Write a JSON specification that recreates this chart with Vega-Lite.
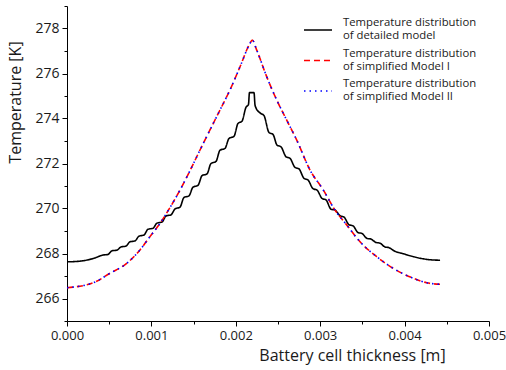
{
  "$schema": "https://vega.github.io/schema/vega-lite/v6.json",
  "width": 422,
  "height": 315,
  "autosize": "none",
  "padding": {"left": 67, "top": 6, "right": 17, "bottom": 49},
  "config": {
    "view": {"stroke": null},
    "font": "Open Sans",
    "axis": {"grid": false, "domainColor": "#000", "tickColor": "#000", "labelColor": "#1a1a1a", "titleColor": "#1a1a1a", "labelFont": "Open Sans", "titleFont": "Open Sans", "titleFontWeight": "normal", "domainWidth": 1, "tickWidth": 1},
    "legend": {"rowPadding": 3.5, "padding": 0}
  },
  "datasets": {
    "detailed": [
      {"x": 0, "T": 267.63}, {"x": 0.000154, "T": 267.66}, {"x": 0.000312, "T": 267.78},
      {"x": 0.000427, "T": 267.93}, {"x": 0.000486, "T": 267.96}, {"x": 0.000533, "T": 268.12}, {"x": 0.000592, "T": 268.15},
      {"x": 0.00064, "T": 268.29}, {"x": 0.000699, "T": 268.33}, {"x": 0.000746, "T": 268.52}, {"x": 0.000806, "T": 268.56},
      {"x": 0.000853, "T": 268.77}, {"x": 0.000912, "T": 268.82}, {"x": 0.00096, "T": 269.08}, {"x": 0.001019, "T": 269.12},
      {"x": 0.001066, "T": 269.35}, {"x": 0.001126, "T": 269.4}, {"x": 0.001173, "T": 269.67}, {"x": 0.001232, "T": 269.72},
      {"x": 0.00128, "T": 269.98}, {"x": 0.001339, "T": 270.06}, {"x": 0.001386, "T": 270.49}, {"x": 0.001445, "T": 270.56},
      {"x": 0.001493, "T": 270.95}, {"x": 0.001552, "T": 271.03}, {"x": 0.0016, "T": 271.46}, {"x": 0.001659, "T": 271.54},
      {"x": 0.001706, "T": 272.0}, {"x": 0.001765, "T": 272.09}, {"x": 0.001813, "T": 272.59}, {"x": 0.001872, "T": 272.67},
      {"x": 0.001919, "T": 273.11}, {"x": 0.001979, "T": 273.21}, {"x": 0.002026, "T": 273.78}, {"x": 0.002073, "T": 273.88},
      {"x": 0.002121, "T": 274.5}, {"x": 0.00215, "T": 274.62}, {"x": 0.002162, "T": 275.15}, {"x": 0.002216, "T": 275.15},
      {"x": 0.002227, "T": 274.62}, {"x": 0.002239, "T": 274.47},
      {"x": 0.002287, "T": 274.25}, {"x": 0.002334, "T": 274.13}, {"x": 0.002393, "T": 273.38}, {"x": 0.002441, "T": 273.29},
      {"x": 0.002488, "T": 272.82}, {"x": 0.002536, "T": 272.74}, {"x": 0.002595, "T": 272.3}, {"x": 0.002642, "T": 272.23},
      {"x": 0.002701, "T": 271.83}, {"x": 0.002749, "T": 271.76}, {"x": 0.002808, "T": 271.34}, {"x": 0.002855, "T": 271.27},
      {"x": 0.002915, "T": 270.88}, {"x": 0.002962, "T": 270.82}, {"x": 0.003021, "T": 270.45}, {"x": 0.003069, "T": 270.38},
      {"x": 0.003128, "T": 269.97}, {"x": 0.003175, "T": 269.93}, {"x": 0.003235, "T": 269.68}, {"x": 0.003282, "T": 269.62},
      {"x": 0.003341, "T": 269.28}, {"x": 0.003389, "T": 269.23}, {"x": 0.003448, "T": 268.93}, {"x": 0.003495, "T": 268.89},
      {"x": 0.003555, "T": 268.67}, {"x": 0.003602, "T": 268.64}, {"x": 0.003661, "T": 268.49}, {"x": 0.003709, "T": 268.46},
      {"x": 0.003768, "T": 268.29}, {"x": 0.003815, "T": 268.26}, {"x": 0.003874, "T": 268.12}, {"x": 0.003993, "T": 267.98},
      {"x": 0.004103, "T": 267.86}, {"x": 0.004262, "T": 267.74}, {"x": 0.00442, "T": 267.7}
    ],
    "simplified": [
      {"x": 0, "T": 266.48}, {"x": 0.000312, "T": 266.7}, {"x": 0.000509, "T": 267.12}, {"x": 0.000707, "T": 267.56},
      {"x": 0.000865, "T": 268.16}, {"x": 0.000983, "T": 268.75}, {"x": 0.001102, "T": 269.34}, {"x": 0.00122, "T": 270.04},
      {"x": 0.001339, "T": 270.82}, {"x": 0.001457, "T": 271.68}, {"x": 0.001576, "T": 272.6}, {"x": 0.001694, "T": 273.49},
      {"x": 0.001813, "T": 274.38}, {"x": 0.001931, "T": 275.27}, {"x": 0.00205, "T": 276.3}, {"x": 0.002168, "T": 277.34},
      {"x": 0.002195, "T": 277.49}, {"x": 0.002248, "T": 277.04}, {"x": 0.002366, "T": 275.86}, {"x": 0.002485, "T": 274.82},
      {"x": 0.002603, "T": 273.93}, {"x": 0.002722, "T": 273.04}, {"x": 0.002879, "T": 271.71}, {"x": 0.003037, "T": 270.82},
      {"x": 0.003175, "T": 269.93}, {"x": 0.003314, "T": 269.27}, {"x": 0.003472, "T": 268.52}, {"x": 0.003669, "T": 267.86},
      {"x": 0.003866, "T": 267.34}, {"x": 0.004103, "T": 266.9}, {"x": 0.004262, "T": 266.7}, {"x": 0.00442, "T": 266.63}
    ],
    "simplified2": [
      {"x": 0, "T": 266.48}, {"x": 0.000312, "T": 266.7}, {"x": 0.000509, "T": 267.12}, {"x": 0.000707, "T": 267.56},
      {"x": 0.000865, "T": 268.16}, {"x": 0.000983, "T": 268.75}, {"x": 0.001102, "T": 269.34}, {"x": 0.00122, "T": 270.04},
      {"x": 0.001339, "T": 270.82}, {"x": 0.001457, "T": 271.68}, {"x": 0.001576, "T": 272.6}, {"x": 0.001694, "T": 273.49},
      {"x": 0.001813, "T": 274.38}, {"x": 0.001931, "T": 275.27}, {"x": 0.00205, "T": 276.3}, {"x": 0.002168, "T": 277.34},
      {"x": 0.002195, "T": 277.49}, {"x": 0.002248, "T": 277.04}, {"x": 0.002366, "T": 275.86}, {"x": 0.002485, "T": 274.82},
      {"x": 0.002603, "T": 273.93}, {"x": 0.002722, "T": 273.04}, {"x": 0.002879, "T": 271.71}, {"x": 0.003037, "T": 270.82},
      {"x": 0.003175, "T": 269.93}, {"x": 0.003314, "T": 269.27}, {"x": 0.003472, "T": 268.52}, {"x": 0.003669, "T": 267.86},
      {"x": 0.003866, "T": 267.34}, {"x": 0.004103, "T": 266.9}, {"x": 0.004262, "T": 266.7}, {"x": 0.00442, "T": 266.63}
    ]
  },
  "layer": [
    {
      "data": {"name": "detailed"},
      "transform": [{"calculate": "'Temperature distribution|of detailed model'", "as": "series"}],
      "mark": {"type": "line", "strokeWidth": 1.6, "clip": true, "interpolate": "monotone"},
      "encoding": {
        "x": {"field": "x", "type": "quantitative"},
        "y": {"field": "T", "type": "quantitative"},
        "color": {"field": "series", "type": "nominal"},
        "strokeDash": {"field": "series", "type": "nominal"}
      }
    },
    {
      "data": {"name": "simplified"},
      "transform": [{"calculate": "'Temperature distribution|of simplified Model I'", "as": "series"}],
      "mark": {"type": "line", "strokeWidth": 1.6, "clip": true, "interpolate": "monotone"},
      "encoding": {
        "x": {"field": "x", "type": "quantitative"},
        "y": {"field": "T", "type": "quantitative"},
        "color": {"field": "series", "type": "nominal"},
        "strokeDash": {"field": "series", "type": "nominal"}
      }
    },
    {
      "data": {"name": "simplified2"},
      "transform": [{"calculate": "'Temperature distribution|of simplified Model II'", "as": "series"}],
      "mark": {"type": "line", "strokeWidth": 1.6, "clip": true, "interpolate": "monotone"},
      "encoding": {
        "x": {"field": "x", "type": "quantitative"},
        "y": {"field": "T", "type": "quantitative"},
        "color": {"field": "series", "type": "nominal"},
        "strokeDash": {"field": "series", "type": "nominal"}
      }
    }
  ],
  "encoding": {
    "x": {
      "field": "x", "type": "quantitative",
      "scale": {"domain": [0, 0.005], "nice": false, "zero": false},
      "axis": {
        "title": "Battery cell thickness [m]",
        "values": [0, 0.0005, 0.001, 0.0015, 0.002, 0.0025, 0.003, 0.0035, 0.004, 0.0045, 0.005],
        "format": ".3f",
        "labelExpr": "round(datum.value * 2000) % 2 == 0 ? datum.label : ''",
        "tickSize": {"condition": {"test": "round(datum.value * 2000) % 2 != 0", "value": 3}, "value": 5},
        "labelFontSize": 13, "labelPadding": 3, "labelFlush": false,
        "titleFontSize": 16, "titleX": 285, "titleY": 34, "titleBaseline": "middle", "titleAlign": "center"
      }
    },
    "y": {
      "field": "T", "type": "quantitative",
      "scale": {"domain": [265, 279], "nice": false, "zero": false},
      "axis": {
        "title": "Temperature [K]",
        "values": [265, 266, 267, 268, 269, 270, 271, 272, 273, 274, 275, 276, 277, 278, 279],
        "labelExpr": "datum.value % 2 == 0 ? datum.label : ''",
        "tickSize": {"condition": {"test": "datum.value % 2 != 0", "value": 3}, "value": 5},
        "labelFontSize": 14, "labelPadding": 3,
        "titleFontSize": 16, "titleX": -52, "titleY": 96, "titleBaseline": "middle", "titleAlign": "center", "titleAngle": -90
      }
    },
    "color": {
      "field": "series", "type": "nominal",
      "scale": {
        "domain": ["Temperature distribution|of detailed model", "Temperature distribution|of simplified Model I", "Temperature distribution|of simplified Model II"],
        "range": ["#000000", "#ff0000", "#0000ff"]
      },
      "legend": {
        "title": null, "orient": "none", "legendX": 236, "legendY": 9,
        "symbolType": "stroke", "symbolSize": 784, "symbolStrokeWidth": 1.6,
        "labelExpr": "split(datum.label, '|')",
        "labelFontSize": 11.3, "labelFont": "Open Sans", "labelColor": "#1a1a1a", "labelOffset": 10,
        "rowPadding": 3.5, "padding": 0, "labelLimit": 300,
        "encode": {"labels": {"update": {"dy": {"value": -7}}}}
      }
    },
    "strokeDash": {
      "field": "series", "type": "nominal",
      "scale": {
        "domain": ["Temperature distribution|of detailed model", "Temperature distribution|of simplified Model I", "Temperature distribution|of simplified Model II"],
        "range": [[1, 0], [6, 4], [1.5, 4]]
      },
      "legend": {
        "title": null, "orient": "none", "legendX": 236, "legendY": 9,
        "symbolType": "stroke", "symbolSize": 784, "symbolStrokeWidth": 1.6,
        "labelExpr": "split(datum.label, '|')",
        "labelFontSize": 11.3, "labelFont": "Open Sans", "labelColor": "#1a1a1a", "labelOffset": 10,
        "rowPadding": 3.5, "padding": 0, "labelLimit": 300,
        "encode": {"labels": {"update": {"dy": {"value": -7}}}}
      }
    }
  }
}
